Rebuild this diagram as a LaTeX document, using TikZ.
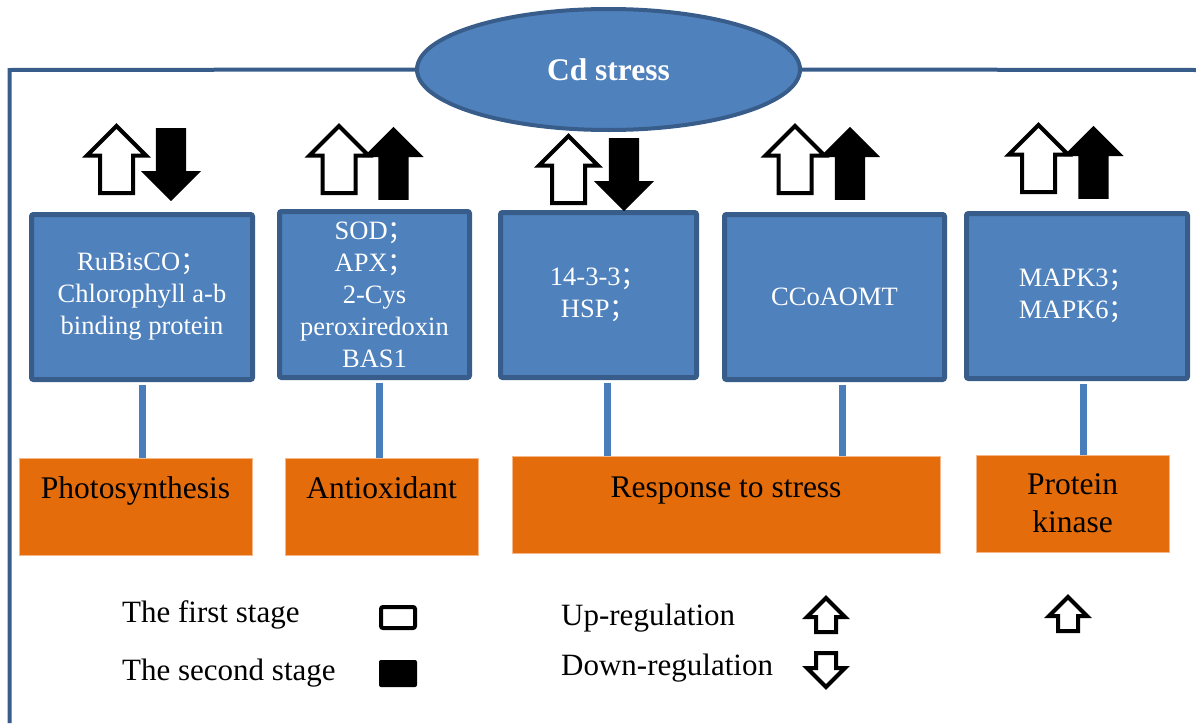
\documentclass[tikz,border=0pt]{standalone}
\usepackage{fontspec}
\setmainfont{Liberation Serif}
\newfontfamily\cjk{Noto Sans CJK SC}
\usetikzlibrary{shapes.geometric,shapes.arrows}
\definecolor{boxblue}{HTML}{4F81BD}
\definecolor{edgeblue}{HTML}{385D8A}
\definecolor{lineblue}{HTML}{4A7EBB}
\definecolor{procorange}{HTML}{E46C0A}
\definecolor{orangeedge}{HTML}{F5B78A}
\newcommand{\sep}{{\cjk ；}}

\begin{document}
\begin{tikzpicture}[x=1pt,y=-1pt,inner sep=0pt,
  protein/.style={draw=edgeblue,line width=5pt,fill=boxblue,rounded corners=2pt,
    text=white,align=center,font=\fontsize{26.5}{32}\selectfont},
  process/.style={draw=orangeedge,line width=1pt,fill=procorange},
  proclabel/.style={anchor=north,yshift=-18.5pt,align=center,font=\fontsize{31.5}{38}\selectfont},
  link/.style={lineblue,line width=7pt},
  frame/.style={edgeblue,line width=4pt},
  blockarrow/.style={single arrow,anchor=tail,inner xsep=0pt,single arrow head indent=0pt},
  bigopen/.style={blockarrow,draw=black,fill=white,line width=4pt,
    minimum height=67pt,inner ysep=14.5pt,single arrow head extend=13pt},
  bigsolid/.style={blockarrow,fill=black,
    minimum height=73pt,inner ysep=15pt,single arrow head extend=15pt},
  smallopen/.style={blockarrow,draw=black,fill=white,line width=4pt,
    minimum height=34pt,inner ysep=8pt,single arrow head extend=9pt},
  stagebox/.style={rounded corners=2pt},
  legend/.style={anchor=base west,font=\fontsize{31}{37}\selectfont}]

\useasboundingbox (0,0) rectangle (1196,723);

% Cd stress and frame
\node[ellipse,draw=edgeblue,line width=4pt,fill=boxblue,minimum width=383pt,minimum height=121pt,
  text=white,font=\bfseries\fontsize{31.5}{38}\selectfont] (cd) at (608.5,69.5) {Cd stress};
\coordinate (corner) at (9.5,70);
\coordinate (foot) at (9.5,723);
\coordinate (rim) at (1196,70);
\draw[frame] (cd.west) -- (corner) -- (foot);
\draw[frame] (cd.east) -- (rim);

% processes
\node[process,minimum width=233pt,minimum height=97pt,
  label={[proclabel]north:Photosynthesis}] (o1) at (135.5,506.5) {};
\node[process,minimum width=193pt,minimum height=97pt,
  label={[proclabel]north:Antioxidant}] (o2) at (381.5,506.5) {};
\node[process,minimum width=428pt,minimum height=97pt,
  label={[proclabel,yshift=-3pt]north:Response to stress}] (o3) at (726,504.5) {};
\node[process,minimum width=193pt,minimum height=97pt,
  label={[proclabel]north:Protein\\kinase}] (o4) at (1072.5,503.5) {};

% proteins
\node[protein,minimum width=221pt,minimum height=165pt] (b1) at (142,297)
  {RuBisCO\sep\\Chlorophyll a-b\\binding protein};
\node[protein,minimum width=190pt,minimum height=166pt] (b2) at (374.5,294.5)
  {SOD\sep\\APX\sep\\2-Cys\\peroxiredoxin\\BAS1};
\node[protein,minimum width=196pt,minimum height=165pt] (b3) at (598.5,295)
  {14-3-3\sep\\HSP\sep};
\node[protein,minimum width=220pt,minimum height=165pt] (b4) at (834.5,297) {CCoAOMT};
\node[protein,minimum width=221pt,minimum height=165pt] (b5) at (1077,296)
  {MAPK3\sep\\MAPK6\sep};

\foreach \b/\o/\dx [count=\i] in {b1/o1/0,b2/o2/4.5,b3/o3/8.5,b4/o3/7.5,b5/o4/6} {
  \coordinate (l\i) at ([xshift=\dx pt,yshift=-2.5pt]\b.south);
  \draw[link] (l\i) -- (l\i |- \o.north);
}

% regulation arrows
\node[bigopen,rotate=90] (u1) at (116.5,195) {};
\node[bigsolid,rotate=-90] (d1) at (171,128) {};
\node[bigopen,rotate=90] (u2) at (339,195) {};
\node[bigsolid,rotate=90] (v2) at (393.5,200) {};
\node[bigopen,rotate=90] (u3) at (568.5,205) {};
\node[bigsolid,rotate=-90] (d3) at (624,138) {};
\node[bigopen,rotate=90] (u4) at (795,195) {};
\node[bigsolid,rotate=90] (v4) at (850,200) {};
\node[bigopen,rotate=90] (u5) at (1038.5,194) {};
\node[bigsolid,rotate=90] (v5) at (1093.5,199) {};

% legend
\node[legend] (first) at (122,622) {The first stage};
\node[legend] (second) at (122,680) {The second stage};
\node[stagebox,draw=black,line width=4pt,minimum width=34pt,minimum height=21pt] (s1) at (398,617.5) {};
\node[stagebox,fill=black,minimum width=38pt,minimum height=27pt] (s2) at (398,673.5) {};
\node[legend] (upreg) at (561,625) {Up-regulation};
\node[legend] (downreg) at (561,675) {Down-regulation};
\node[smallopen,rotate=90] (a1) at (826,634) {};
\node[smallopen,rotate=-90] (a2) at (826,651) {};
\node[smallopen,rotate=90] (a3) at (1068,633) {};

\end{tikzpicture}
\end{document}
